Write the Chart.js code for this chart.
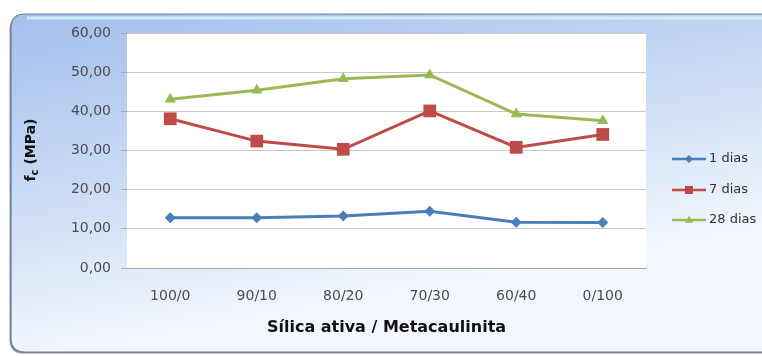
<!DOCTYPE html>
<html><head><meta charset="utf-8">
<script src="https://cdn.jsdelivr.net/npm/chart.js@4.4.0/dist/chart.umd.min.js"></script>
<style>html,body{margin:0;padding:0;background:#fff}#wrap{width:762px;height:356px;position:relative}</style>
</head><body><div id="wrap"><canvas id="c" width="762" height="356"></canvas></div>
<script>
const categories = ["100/0", "90/10", "80/20", "70/30", "60/40", "0/100"];
const dias1 = [12.8, 12.8, 13.3, 14.5, 11.7, 11.6];
const dias7 = [38.1, 32.4, 30.3, 40.1, 30.8, 34.1];
const dias28 = [43.1, 45.4, 48.3, 49.3, 39.3, 37.6];
const seriesLabels = ["1 dias", "7 dias", "28 dias"];
const yTicks = [0, 10, 20, 30, 40, 50, 60];
const xTitle = "Sílica ativa / Metacaulinita";
const yTitleMain = "f", yTitleSub = "c", yTitleRest = " (MPa)";

const FONT = "'DejaVu Sans', sans-serif";
const colors = ["#4a7ebb", "#be4b48", "#98b954"];
const styles = ["rectRot", "rect", "triangle"];
const radii = [5.5, 9, 6.5];

function drawMarker(ctx, style, x, y, r, color) {
  ctx.save();
  ctx.fillStyle = color;
  ctx.beginPath();
  if (style === "rectRot") {
    ctx.moveTo(x, y - r); ctx.lineTo(x + r, y); ctx.lineTo(x, y + r); ctx.lineTo(x - r, y);
  } else if (style === "rect") {
    ctx.rect(x - r, y - r, r * 2, r * 2);
  } else {
    ctx.moveTo(x, y - r); ctx.lineTo(x + r * 0.9, y + r * 0.6); ctx.lineTo(x - r * 0.9, y + r * 0.6);
  }
  ctx.closePath(); ctx.fill(); ctx.restore();
}

const bgPlugin = {
  id: "bg",
  beforeDraw(chart) {
    const ctx = chart.ctx, a = chart.chartArea;
    ctx.save();
    ctx.fillStyle = "#fff"; ctx.fillRect(0, 0, chart.width, chart.height);
    const x = 11, y = 14, w = 770, h = 338, r = 14;
    function rr() {
      ctx.beginPath();
      ctx.moveTo(x + r, y); ctx.lineTo(x + w - r, y); ctx.quadraticCurveTo(x + w, y, x + w, y + r);
      ctx.lineTo(x + w, y + h - r); ctx.quadraticCurveTo(x + w, y + h, x + w - r, y + h);
      ctx.lineTo(x + r, y + h); ctx.quadraticCurveTo(x, y + h, x, y + h - r);
      ctx.lineTo(x, y + r); ctx.quadraticCurveTo(x, y, x + r, y); ctx.closePath();
    }
    ctx.save(); ctx.translate(-1.5, 1.5); rr(); ctx.fillStyle = "#8a8f99"; ctx.fill(); ctx.restore();
    rr();
    const g = ctx.createLinearGradient(0, y, 60, y + h);
    g.addColorStop(0, "#a4bfec");
    g.addColorStop(0.5, "#c7d9f4");
    g.addColorStop(1, "#f3f7fd");
    ctx.fillStyle = g; ctx.fill();
    ctx.lineWidth = 1.2; ctx.strokeStyle = "#6f7d95"; ctx.stroke();
    ctx.strokeStyle = "rgba(215,238,252,0.9)"; ctx.lineWidth = 3;
    ctx.beginPath(); ctx.moveTo(x + 16, y + 4); ctx.lineTo(x + w, y + 4); ctx.stroke();
    ctx.fillStyle = "#fff";
    ctx.fillRect(a.left, a.top, a.right - a.left, a.bottom - a.top);
    ctx.restore();
  },
  afterDraw(chart) {
    const ctx = chart.ctx, a = chart.chartArea;
    ctx.save();
    ctx.fillStyle = "#111";
    ctx.font = "bold 16px " + FONT;
    ctx.textAlign = "center"; ctx.textBaseline = "middle";
    ctx.fillText(xTitle, (a.left + a.right) / 2, 328);
    ctx.translate(31, 150); ctx.rotate(-Math.PI / 2);
    const fMain = "bold 14px " + FONT, fSub = "bold 10px " + FONT;
    ctx.font = fMain; const w1 = ctx.measureText(yTitleMain).width, w3 = ctx.measureText(yTitleRest).width;
    ctx.font = fSub; const w2 = ctx.measureText(yTitleSub).width;
    let sx = -(w1 + w2 + w3) / 2;
    ctx.textAlign = "left";
    ctx.font = fMain; ctx.fillText(yTitleMain, sx, 0); sx += w1;
    ctx.font = fSub; ctx.fillText(yTitleSub, sx, 4); sx += w2;
    ctx.font = fMain; ctx.fillText(yTitleRest, sx, 0);
    ctx.restore();
    ctx.save();
    const ly = [159, 190, 220];
    const lr = [4, 4, 4.5];
    chart.data.datasets.forEach((ds, i) => {
      ctx.strokeStyle = ds.borderColor; ctx.lineWidth = 2.5;
      ctx.beginPath(); ctx.moveTo(672, ly[i]); ctx.lineTo(706, ly[i]); ctx.stroke();
      drawMarker(ctx, styles[i], 689, ly[i], lr[i], ds.borderColor);
      ctx.fillStyle = "#333"; ctx.font = "13px " + FONT;
      ctx.textAlign = "left"; ctx.textBaseline = "middle";
      ctx.fillText(ds.label, 709, ly[i]);
    });
    ctx.restore();
  }
};

const seriesData = [dias1, dias7, dias28];
new Chart(document.getElementById("c"), {
  type: "line",
  data: {
    labels: categories,
    datasets: seriesData.map((d, i) => ({
      label: seriesLabels[i], data: d,
      borderColor: colors[i], backgroundColor: colors[i],
      borderWidth: 3, pointStyle: styles[i], pointRadius: radii[i],
      pointBorderWidth: 0, pointBackgroundColor: colors[i], tension: 0
    }))
  },
  options: {
    responsive: false, animation: false, devicePixelRatio: 1,
    layout: { padding: { top: 33, right: 116, left: 0, bottom: 0 } },
    plugins: { legend: { display: false }, tooltip: { enabled: false } },
    scales: {
      x: {
        offset: true,
        grid: { display: false, drawTicks: true, tickLength: 6 },
        border: { color: "#a6a6a6", width: 1 },
        ticks: { font: { family: FONT, size: 14 }, color: "#4d4d4d", padding: 14, maxRotation: 0 },
        afterFit(s) { s.height = 88; }
      },
      y: {
        min: 0, max: 60,
        afterBuildTicks(s) { s.ticks = yTicks.map(v => ({ value: v })); },
        grid: { color: "#c8c8c8", lineWidth: 1, tickLength: 6, tickColor: "#a6a6a6" },
        border: { display: false },
        ticks: {
          font: { family: FONT, size: 14 }, color: "#4d4d4d", padding: 10,
          callback: v => v.toFixed(2).replace(".", ",")
        },
        afterFit(s) { s.width = 127; }
      }
    }
  },
  plugins: [bgPlugin]
});
</script></body></html>
